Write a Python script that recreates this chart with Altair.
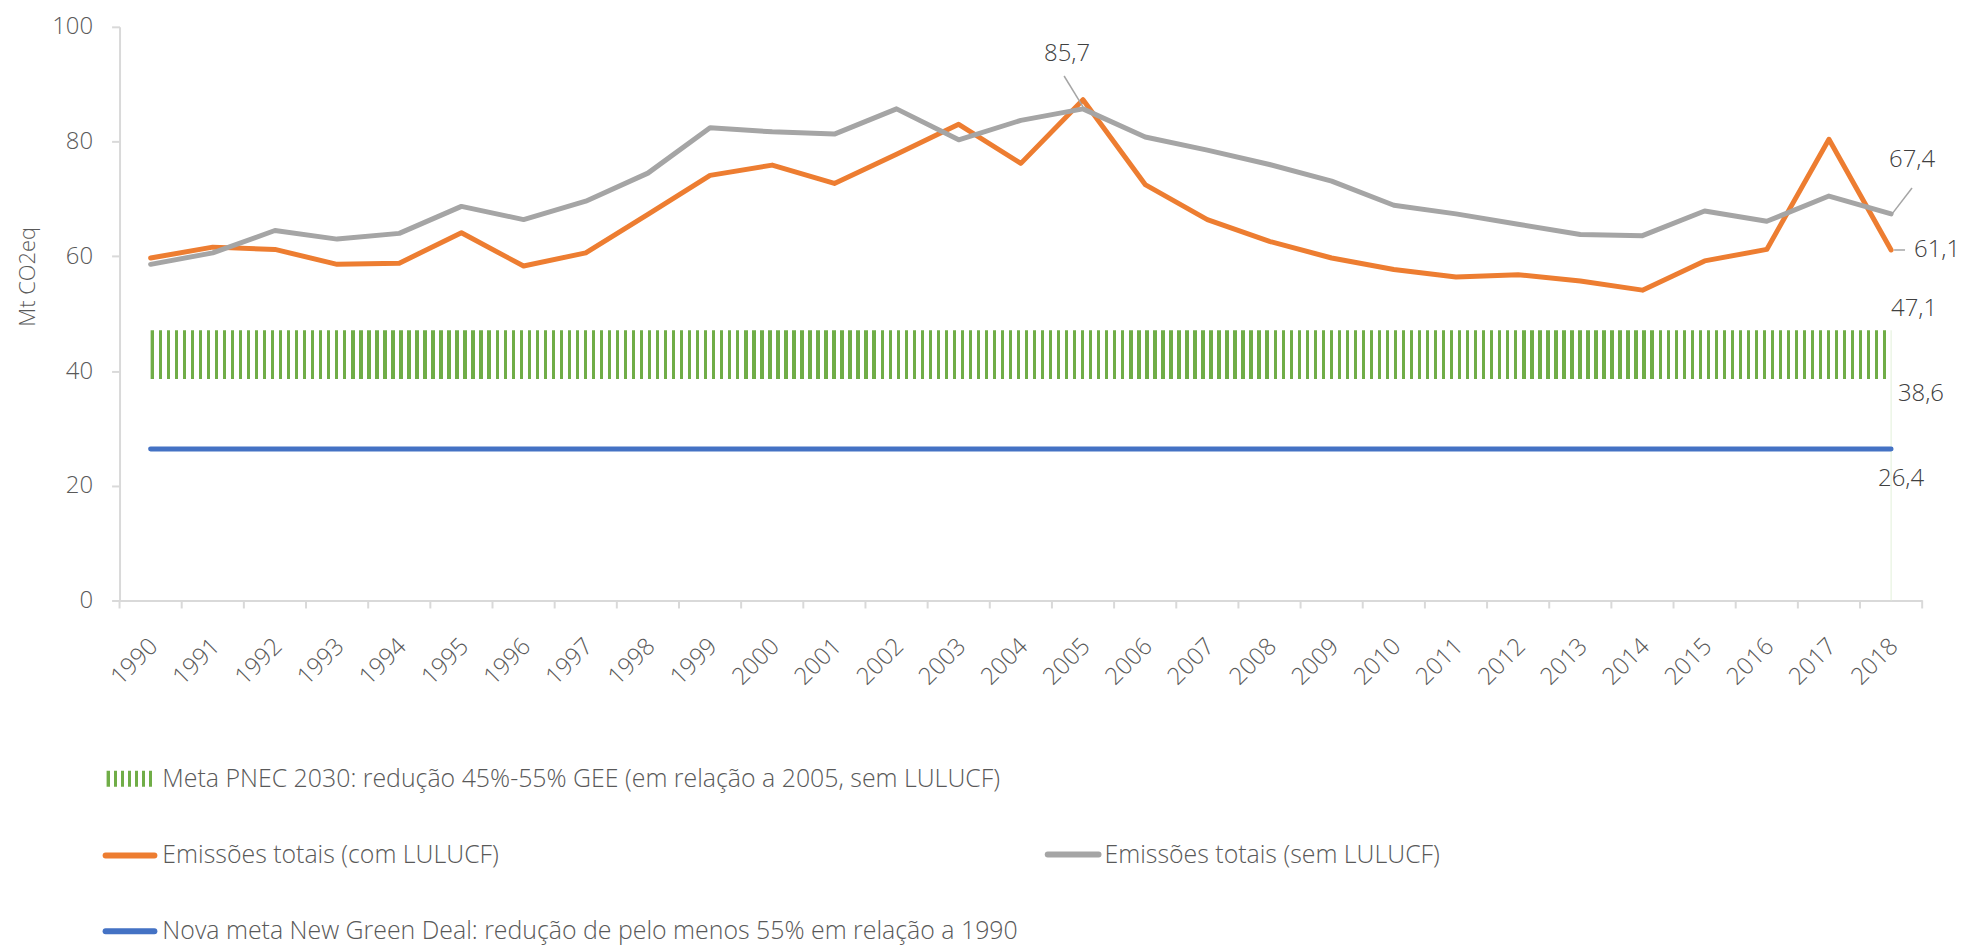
import altair as alt
import pandas as pd

# ---------------- data ----------------
anos = list(range(1990, 2019))
emissoes_com_lulucf = [59.7, 61.6, 61.2, 58.6, 58.8, 64.1, 58.3, 60.6, 67.3, 74.1,
                       75.9, 72.7, 77.8, 83.0, 76.2, 87.3, 72.5, 66.4, 62.6, 59.7,
                       57.7, 56.4, 56.8, 55.7, 54.1, 59.2, 61.2, 80.4, 61.1]
emissoes_sem_lulucf = [58.6, 60.6, 64.5, 63.0, 64.0, 68.7, 66.4, 69.6, 74.5, 82.4,
                       81.7, 81.3, 85.7, 80.3, 83.7, 85.7, 80.8, 78.5, 76.0, 73.1,
                       68.9, 67.4, 65.6, 63.8, 63.6, 67.9, 66.1, 70.5, 67.4]
meta_pnec_superior = 47.1
meta_pnec_inferior = 38.6
meta_ngd = 26.4
y_ticks = [0, 20, 40, 60, 80, 100]
titulo_y = "Mt CO2eq"

nomes_series = [
    "Meta PNEC 2030: redução 45%-55% GEE (em relação a 2005, sem LULUCF)",
    "Emissões totais (com LULUCF)",
    "Emissões totais (sem LULUCF)",
    "Nova meta New Green Deal: redução de pelo menos 55% em relação a 1990",
]

# ---------------- style ----------------
FONT = "Open Sans"
FW = 300
TXT = "#595959"
LBL = "#404040"
AXC = "#D9D9D9"
ORANGE = "#ED7D31"
GREY = "#A5A5A5"
BLUE = "#4472C4"
GREEN = "#70AD47"

W, H = 1810, 576
PX_X = W / 29.0
PX_Y = H / 100.0

xs = alt.Scale(domain=[anos[0] - 0.5, anos[-1] + 0.5], nice=False, zero=False)
ys = alt.Scale(domain=[0, 100], nice=False, zero=True)


def stripes(n, frac, color):
    stops = []
    for i in range(n):
        a = i / n
        b = (i + frac) / n
        stops += [alt.GradientStop(offset=a, color=color),
                  alt.GradientStop(offset=b, color=color),
                  alt.GradientStop(offset=b, color="#FFFFFF"),
                  alt.GradientStop(offset=(i + 1) / n, color="#FFFFFF")]
    return alt.Gradient(gradient="linear", stops=stops, x1=0, x2=1, y1=0, y2=0)


def fmt(v):
    return f"{v:.1f}".replace(".", ",")


df = pd.DataFrame({"ano": anos, "com": emissoes_com_lulucf, "sem": emissoes_sem_lulucf})

# axis carrier (invisible) + x/y axes
base = alt.Chart(df).mark_point(opacity=0).encode(
    x=alt.X("ano:Q", scale=xs, title=None,
            axis=alt.Axis(values=anos, format="d", labelAngle=-45, labelAlign="right",
                          labelBaseline="middle", labelPadding=42, labelOffset=3,
                          ticks=False, tickSize=0,
                          domainColor=AXC, domainWidth=2, grid=False, labelOverlap=False,
                          labelFontSize=24, labelColor=TXT, labelFont=FONT,
                          labelFontWeight=FW, labelFlush=False)),
    y=alt.Y("com:Q", scale=ys, title=None,
            axis=alt.Axis(values=y_ticks, grid=False, domainColor=AXC, domainWidth=2,
                          tickColor=AXC, tickWidth=2, tickSize=8, labelPadding=19,
                          labelFontSize=24, labelColor=TXT, labelFont=FONT,
                          labelFontWeight=FW)),
)

# y-axis title
y_title = alt.Chart(pd.DataFrame({"t": [titulo_y]})).mark_text(
    angle=270, align="center", baseline="middle", fontSize=22, font=FONT,
    fontWeight=FW, color=TXT).encode(x=alt.value(-92), y=alt.value(251), text="t:N")

# category boundary ticks on x axis
fronteiras = [a - 0.5 for a in anos] + [anos[-1] + 0.5]
ticks_x = alt.Chart(pd.DataFrame({"b": fronteiras})).mark_rule(
    color=AXC, strokeWidth=2).encode(
    x=alt.X("b:Q", scale=xs, axis=None), y=alt.value(H), y2=alt.value(H + 8))

# PNEC band (striped)
band_df = pd.DataFrame({"a0": [anos[0]], "a1": [anos[-1]],
                        "sup": [meta_pnec_superior], "inf": [meta_pnec_inferior]})
band = alt.Chart(band_df).mark_rect(fill=stripes(217, 0.42, GREEN)).encode(
    x=alt.X("a0:Q", scale=xs, axis=None), x2="a1:Q",
    y=alt.Y("inf:Q", scale=ys, axis=None), y2="sup:Q")
band_edge = alt.Chart(band_df).mark_rule(color="#E2F0D9", strokeWidth=1).encode(
    x=alt.X("a1:Q", scale=xs, axis=None),
    y=alt.Y("sup:Q", scale=ys, axis=None), y2=alt.datum(0))

# NGD line
ngd = alt.Chart(pd.DataFrame({"a0": [anos[0]], "a1": [anos[-1]], "v": [meta_ngd]})).mark_rule(
    color=BLUE, strokeWidth=5, strokeCap="round").encode(
    x=alt.X("a0:Q", scale=xs, axis=None), x2="a1:Q", y=alt.Y("v:Q", scale=ys, axis=None))

line_com = alt.Chart(df).mark_line(color=ORANGE, strokeWidth=5, strokeCap="round",
                                   strokeJoin="round").encode(
    x=alt.X("ano:Q", scale=xs, axis=None), y=alt.Y("com:Q", scale=ys, axis=None))
line_sem = alt.Chart(df).mark_line(color=GREY, strokeWidth=5, strokeCap="round",
                                   strokeJoin="round").encode(
    x=alt.X("ano:Q", scale=xs, axis=None), y=alt.Y("sem:Q", scale=ys, axis=None))


def label(year, val, dx, dy, align="center"):
    d = pd.DataFrame({"ano": [year], "v": [val], "t": [fmt(val)]})
    return alt.Chart(d).mark_text(dx=dx, dy=dy, align=align, baseline="middle",
                                  fontSize=24, font=FONT, fontWeight=FW, color=LBL).encode(
        x=alt.X("ano:Q", scale=xs, axis=None), y=alt.Y("v:Q", scale=ys, axis=None), text="t:N")


def leader(year, val, dx1, dy1, dx2, dy2):
    d = pd.DataFrame({"x1": [year + dx1 / PX_X], "y1": [val - dy1 / PX_Y],
                      "x2": [year + dx2 / PX_X], "y2": [val - dy2 / PX_Y]})
    return alt.Chart(d).mark_rule(color=GREY, strokeWidth=1.5).encode(
        x=alt.X("x1:Q", scale=xs, axis=None), x2="x2:Q",
        y=alt.Y("y1:Q", scale=ys, axis=None), y2="y2:Q")


i05 = anos.index(2005)
labels = [
    leader(2005, emissoes_sem_lulucf[i05], 0, -2, -19, -33),
    label(2005, emissoes_sem_lulucf[i05], -16, -55),
    leader(2018, emissoes_sem_lulucf[-1], 1, 0, 21, -26),
    label(2018, emissoes_sem_lulucf[-1], 21, -54),
    leader(2018, emissoes_com_lulucf[-1], 3, 0, 14, 0),
    label(2018, emissoes_com_lulucf[-1], 23, 0, align="left"),
    label(2018, meta_pnec_superior, 23, -21),
    label(2018, meta_pnec_inferior, 30, 15),
    label(2018, meta_ngd, 10, 30),
]

# ---------------- legend (guide) ----------------
leg_text_pos = [(43, 755), (43, 832), (989, 832), (43, 908)]
leg_layers = []
for nome, (lx, ly) in zip(nomes_series, leg_text_pos):
    leg_layers.append(
        alt.Chart(pd.DataFrame({"t": [nome]})).mark_text(
            align="left", baseline="middle", fontSize=25, font=FONT, fontWeight=FW,
            color=TXT).encode(x=alt.value(lx), y=alt.value(ly), text="t:N"))

leg_sym_df = pd.DataFrame({"k": [0]})
leg_layers.append(alt.Chart(leg_sym_df).mark_rect(fill=stripes(7, 0.45, GREEN)).encode(
    x=alt.value(-13), x2=alt.value(37), y=alt.value(747), y2=alt.value(763)))
for col, (x0, x1, yy) in zip([ORANGE, GREY, BLUE],
                             [(-14, 35, 832), (932, 983, 831), (-14, 35, 908)]):
    leg_layers.append(alt.Chart(leg_sym_df).mark_rule(
        color=col, strokeWidth=6, strokeCap="round").encode(
        x=alt.value(x0), x2=alt.value(x1), y=alt.value(yy)))

chart = alt.layer(
    base, y_title, ticks_x, band, band_edge, ngd, line_com, line_sem, *labels, *leg_layers
).resolve_axis(x="independent", y="independent").properties(
    width=W, height=H,
    autosize=alt.AutoSizeParams(type="none"),
    padding={"left": 112, "top": 17, "right": 44, "bottom": 345},
    background="white",
).configure_view(stroke=None)

chart.save("out.html", embed_options={"renderer": "svg", "actions": False})
